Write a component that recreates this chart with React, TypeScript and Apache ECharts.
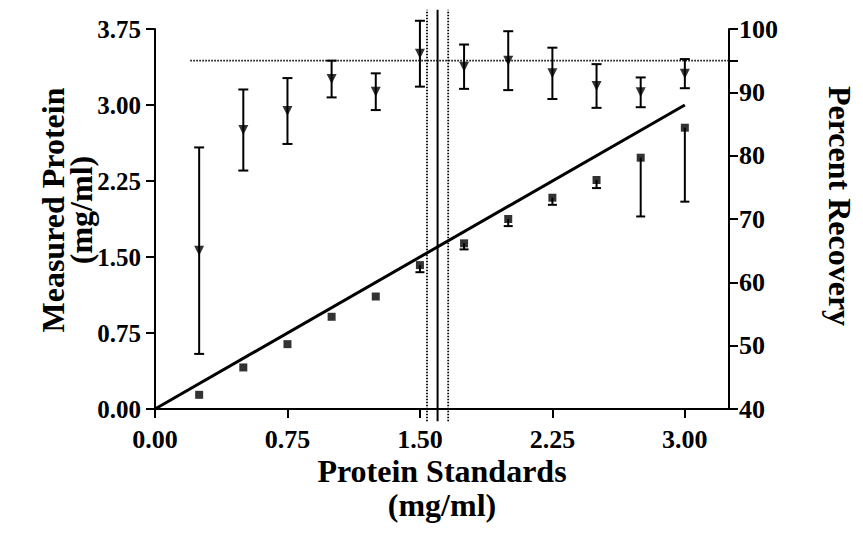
import React, { useEffect, useRef } from "react";
import * as echarts from "echarts";

// ---- data ----
const xTickValues = [0, 0.75, 1.5, 2.25, 3.0];
const leftTickValues = [0, 0.75, 1.5, 2.25, 3.0, 3.75];
const rightTickValues = [40, 50, 60, 70, 80, 90, 95, 100];
const rightLabelValues = [40, 50, 60, 70, 80, 90, 100];

const standards = [0.25, 0.5, 0.75, 1.0, 1.25, 1.5, 1.75, 2.0, 2.25, 2.5, 2.75, 3.0];
const measured = [0.14, 0.41, 0.64, 0.91, 1.11, 1.42, 1.635, 1.875, 2.085, 2.26, 2.48, 2.776];
const measuredErr = [0, 0, 0, 0, 0, 0.07, 0.06, 0.07, 0.07, 0.08, 0.58, 0.73];
const recovery = [65.0, 84.05, 87.05, 92.1, 90.1, 96.1, 94.05, 95.0, 93.0, 91.0, 90.0, 92.95];
const recoveryErr = [16.3, 6.4, 5.2, 2.9, 2.9, 5.2, 3.5, 4.65, 4.05, 3.45, 2.35, 2.3];

const fitLine = [
  [0, 0],
  [3, 3],
];
const targetRecovery = 95;
const targetFrom = 0.2;
const targetTo = 3.25;
const intersectX = [1.6];
const intersectCI = [1.54, 1.66];
const vLineBottom = -0.12;
const vLineTop = 3.94;

const FONT = "Liberation Serif";

function errRender(both: boolean, capHalf: number, lw: number) {
  return (params: any, api: any) => {
    const x = api.value(0);
    const lo = api.value(1);
    const hi = api.value(2);
    const pLo = api.coord([x, lo]);
    const pHi = api.coord([x, hi]);
    const style = { stroke: "#000", lineWidth: lw };
    const children: any[] = [
      { type: "line", shape: { x1: pLo[0], y1: pLo[1], x2: pHi[0], y2: pHi[1] }, style },
      { type: "line", shape: { x1: pLo[0] - capHalf, y1: pLo[1], x2: pLo[0] + capHalf, y2: pLo[1] }, style },
    ];
    if (both) {
      children.push({
        type: "line",
        shape: { x1: pHi[0] - capHalf, y1: pHi[1], x2: pHi[0] + capHalf, y2: pHi[1] },
        style,
      });
    }
    return { type: "group", children };
  };
}

function vLineRender(dotted: boolean) {
  return (params: any, api: any) => {
    const x = api.value(0);
    const p1 = api.coord([x, vLineBottom]);
    const p2 = api.coord([x, vLineTop]);
    return {
      type: "line",
      shape: { x1: p1[0], y1: p1[1], x2: p2[0], y2: p2[1] },
      style: dotted
        ? { stroke: "#000", lineWidth: 1.8, lineDash: [1.5, 1.5] }
        : { stroke: "#000", lineWidth: 2 },
    };
  };
}

export default function App() {
  const ref = useRef<HTMLDivElement>(null);
  useEffect(() => {
    document.body.style.margin = "0";
    const chart = echarts.init(ref.current!, null, { renderer: "svg" });
    const labelStyle = {
      fontFamily: FONT,
      fontWeight: "bold" as const,
      fontSize: 27,
      color: "#000",
    };
    const axisLine = { show: true, onZero: false, lineStyle: { color: "#000", width: 2 } };
    const axisTick = { show: true, length: 9, lineStyle: { color: "#000", width: 2 } };

    const measuredErrData = standards
      .map((x, i) => [x, measured[i] - measuredErr[i], measured[i]])
      .filter((d, i) => measuredErr[i] > 0);
    const recoveryErrData = standards.map((x, i) => [x, recovery[i] - recoveryErr[i], recovery[i] + recoveryErr[i]]);

    const titleFont = `bold 32px "${FONT}"`;

    chart.setOption({
      animation: false,
      backgroundColor: "#fff",
      grid: { left: 155, right: 134, top: 29, bottom: 133, containLabel: false },
      xAxis: {
        type: "value",
        min: 0,
        max: 3.25,
        axisLine,
        axisTick: { ...axisTick, customValues: xTickValues },
        splitLine: { show: false },
        axisLabel: {
          ...labelStyle,
          fontSize: 26,
          margin: 17,
          customValues: xTickValues,
          formatter: (v: number) => v.toFixed(2),
        },
      },
      yAxis: [
        {
          type: "value",
          min: 0,
          max: 3.75,
          interval: 0.75,
          position: "left",
          axisLine,
          axisTick,
          splitLine: { show: false },
          axisLabel: {
            ...labelStyle,
            fontSize: 25,
            margin: 14,
            customValues: leftTickValues,
            formatter: (v: number) => v.toFixed(2),
          },
        },
        {
          type: "value",
          min: 40,
          max: 100,
          position: "right",
          axisLine,
          axisTick: { ...axisTick, customValues: rightTickValues },
          splitLine: { show: false },
          axisLabel: {
            ...labelStyle,
            fontSize: 26,
            margin: 10,
            customValues: rightLabelValues,
            formatter: (v: number) => String(Math.round(v)),
          },
        },
      ],
      graphic: [
        {
          type: "text",
          x: 67,
          y: 210,
          rotation: Math.PI / 2,
          style: {
            text: "Measured Protein\n(mg/ml)",
            font: titleFont,
            fill: "#000",
            textAlign: "center",
            textVerticalAlign: "middle",
            lineHeight: 28,
          },
        },
        {
          type: "text",
          x: 840,
          y: 206,
          rotation: -Math.PI / 2,
          style: {
            text: "Percent Recovery",
            font: titleFont,
            fill: "#000",
            textAlign: "center",
            textVerticalAlign: "middle",
          },
        },
        {
          type: "text",
          x: 442,
          y: 488,
          style: {
            text: "Protein Standards\n(mg/ml)",
            font: titleFont,
            fill: "#000",
            textAlign: "center",
            textVerticalAlign: "middle",
            lineHeight: 34,
          },
        },
      ],
      series: [
        {
          name: "fit",
          type: "line",
          xAxisIndex: 0,
          yAxisIndex: 0,
          data: fitLine,
          symbol: "none",
          lineStyle: { color: "#000", width: 3 },
          silent: true,
        },
        {
          name: "vsolid",
          type: "custom",
          xAxisIndex: 0,
          yAxisIndex: 0,
          clip: false,
          data: intersectX.map((x) => [x]),
          renderItem: vLineRender(false),
          silent: true,
        },
        {
          name: "vdotted",
          type: "custom",
          xAxisIndex: 0,
          yAxisIndex: 0,
          clip: false,
          data: intersectCI.map((x) => [x]),
          renderItem: vLineRender(true),
          silent: true,
        },
        {
          name: "target",
          type: "line",
          xAxisIndex: 0,
          yAxisIndex: 1,
          data: [
            [targetFrom, targetRecovery],
            [targetTo, targetRecovery],
          ],
          symbol: "none",
          lineStyle: { color: "#000", width: 1.6, type: [1.5, 1.5] },
          silent: true,
        },
        {
          name: "measuredErr",
          type: "custom",
          xAxisIndex: 0,
          yAxisIndex: 0,
          data: measuredErrData,
          encode: { x: 0, y: [1, 2] },
          renderItem: errRender(false, 4.5, 2),
          silent: true,
        },
        {
          name: "recoveryErr",
          type: "custom",
          xAxisIndex: 0,
          yAxisIndex: 1,
          clip: false,
          data: recoveryErrData,
          encode: { x: 0, y: [1, 2] },
          renderItem: errRender(true, 5, 2),
          silent: true,
        },
        {
          name: "Measured Protein",
          type: "scatter",
          xAxisIndex: 0,
          yAxisIndex: 0,
          data: standards.map((x, i) => [x, measured[i]]),
          symbol: "rect",
          symbolSize: 8,
          itemStyle: { color: "#000" },
        },
        {
          name: "Percent Recovery",
          type: "scatter",
          xAxisIndex: 0,
          yAxisIndex: 1,
          data: standards.map((x, i) => [x, recovery[i]]),
          symbol: "triangle",
          symbolRotate: 180,
          symbolSize: [10, 10],
          itemStyle: { color: "#000" },
        },
      ],
    });
    return () => chart.dispose();
  }, []);
  return <div ref={ref} style={{ width: 863, height: 542 }} />;
}
